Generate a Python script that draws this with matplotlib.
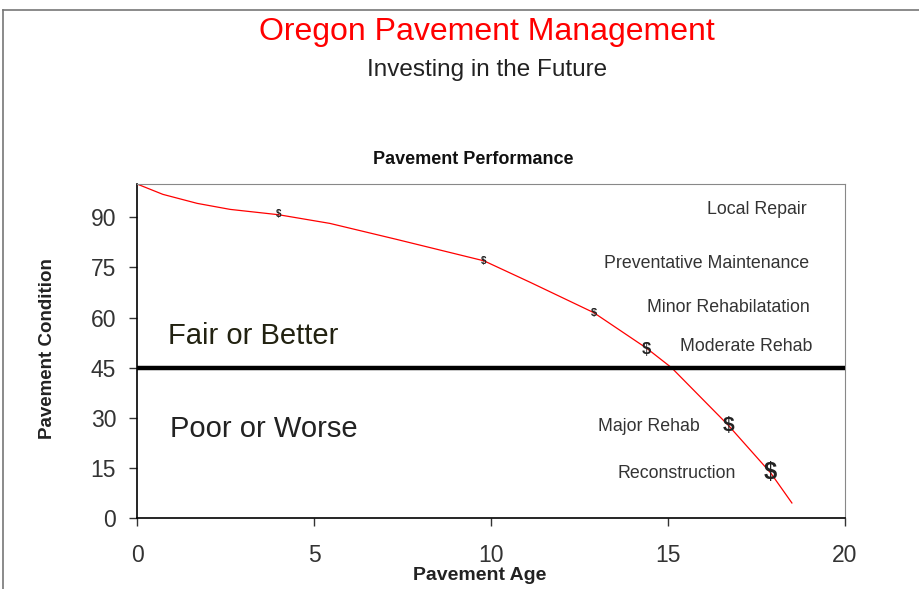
import matplotlib.pyplot as plt
from matplotlib.lines import Line2D

plt.rcParams['font.family'] = ['Liberation Sans', 'DejaVu Sans']

# curve
age = [0, 0.73, 1.7, 2.63, 4.0, 5.45, 7.34, 9.8, 11.1, 12.9, 14.4, 15.1, 16.7, 17.9, 18.5]
cond = [100, 96.9, 94.2, 92.4, 90.8, 88.2, 83.4, 77.0, 70.6, 61.5, 50.8, 45.0, 27.8, 13.5, 4.5]

# treatment points ($ signs) and labels
cost_age = [4.0, 9.8, 12.9, 14.4, 16.7, 17.9]
cost_cond = [91, 77, 61.5, 50.5, 27.8, 13.5]
cost_size = [7, 7, 8, 12, 15, 17]

labels = ["Local Repair", "Preventative Maintenance", "Minor Rehabilatation",
          "Moderate Rehab", "Major Rehab", "Reconstruction"]
label_x = [18.93, 18.98, 19.0, 19.08, 15.9, 16.93]
label_y = [92.5, 76.2, 63.0, 51.3, 27.3, 13.2]

threshold = 45
yticks = [0, 15, 30, 45, 60, 75, 90]
xticks = [0, 5, 10, 15, 20]

fig = plt.figure(figsize=(9.19, 5.89), dpi=100)
ax = fig.add_axes([137/919, 1-518/589, (845-137)/919, (518-184)/589])

ax.plot(age, cond, color='red', lw=0.9)
ax.axhline(threshold, color='black', lw=3.2, zorder=3)

for x, y, s in zip(cost_age, cost_cond, cost_size):
    ax.text(x, y, "$", fontsize=s, ha='center', va='center', color='#222222',
            fontweight='bold', zorder=4)

for t, x, y in zip(labels, label_x, label_y):
    ax.text(x, y, t, fontsize=12.8, ha='right', va='center', color='#333333')

ax.text(0.87, 54.5, "Fair or Better", fontsize=21, color='#222211', va='center')
ax.text(0.92, 26.5, "Poor or Worse", fontsize=21, color='#222222', va='center')

ax.set_xlim(0, 20)
ax.set_ylim(0, 100)
ax.set_xticks(xticks)
ax.set_yticks(yticks)
ax.tick_params(axis='both', labelsize=16.5, colors='#333333', length=6, width=1, direction='out')
ax.tick_params(axis='x', pad=13)
ax.tick_params(axis='y', pad=9)
for side in ['top', 'right']:
    ax.spines[side].set_color('#888888')
for side in ['left', 'bottom']:
    ax.spines[side].set_color('black')
    ax.spines[side].set_linewidth(1.2)

ax.set_xlabel("Pavement Age", fontsize=14, fontweight='bold', color='#222222')
ax.xaxis.set_label_coords(0.484, -0.147)
ax.set_ylabel("Pavement Condition", fontsize=13.5, fontweight='bold', color='#222222')
ax.yaxis.set_label_coords(-0.114, 0.506)

fig.text(487/919, 1-32/589, "Oregon Pavement Management", color='red', fontsize=23,
         ha='center', va='center')
fig.text(487/919, 1-70/589, "Investing in the Future", color='#222222', fontsize=17.5,
         ha='center', va='center')
fig.text(473/919, 1-159/589, "Pavement Performance", color='#111111', fontsize=13,
         fontweight='bold', ha='center', va='center')

# outer frame
fig.add_artist(Line2D([3/919, 3/919], [0, 1-10/589], color='#777777', lw=1.2,
                      transform=fig.transFigure))
fig.add_artist(Line2D([3/919, 1], [1-10/589, 1-10/589], color='#777777', lw=1.2,
                      transform=fig.transFigure))

fig.savefig("out.png", dpi=100)
